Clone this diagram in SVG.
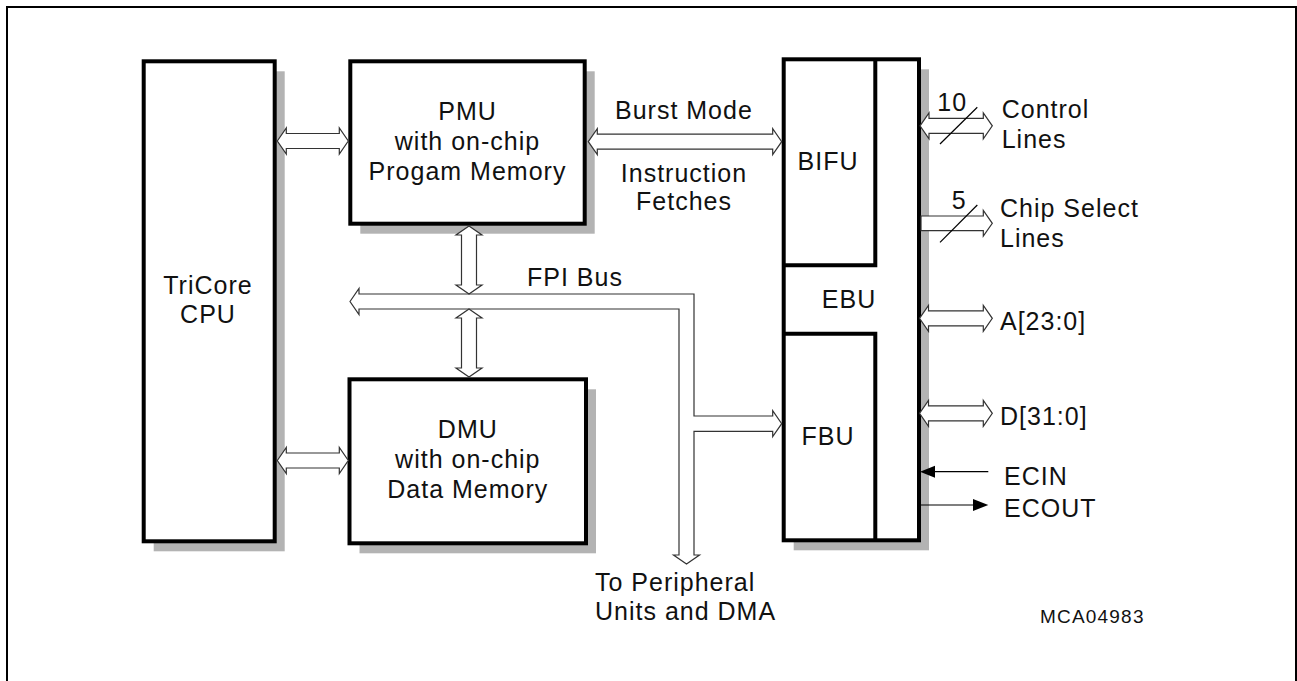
<svg xmlns="http://www.w3.org/2000/svg" width="1297" height="681" viewBox="0 0 1297 681">
<style>
.shadow{fill:#b3b3b3;stroke:none}
.box{fill:#fff;stroke:#000;stroke-width:4}
.div{fill:none;stroke:#000;stroke-width:4}
.arr{fill:#fff;stroke:#333;stroke-width:1.2;stroke-linejoin:miter}
.ln{fill:none;stroke:#000;stroke-width:1.2}
.head{fill:#000;stroke:none}
text{font-family:"Liberation Sans",Arial,sans-serif;font-size:25px;letter-spacing:1px;fill:#111}
.c{text-anchor:middle}
.small{font-size:19px;letter-spacing:1.2px}
</style>
<rect x="7" y="7" width="1289" height="700" fill="none" stroke="#000" stroke-width="2"/>

<g id="cpu">
<rect class="shadow" x="153.7" y="71.3" width="131" height="480"/>
<rect class="box" x="143.7" y="61.3" width="131" height="480"/>
<text class="c" x="208" y="294">TriCore</text>
<text class="c" x="208" y="323">CPU</text>
</g>

<g id="pmu">
<rect class="shadow" x="360.3" y="71.3" width="234.4" height="162.4"/>
<rect class="box" x="350.3" y="61.3" width="234.4" height="162.4"/>
<text class="c" x="467.5" y="119.5">PMU</text>
<text class="c" x="467.5" y="149.5">with on-chip</text>
<text class="c" x="467.5" y="179.5">Progam Memory</text>
</g>

<g id="dmu">
<rect class="shadow" x="359.5" y="389.3" width="236.5" height="164"/>
<rect class="box" x="349.5" y="379.3" width="236.5" height="164"/>
<text class="c" x="467.8" y="437.5">DMU</text>
<text class="c" x="467.8" y="468">with on-chip</text>
<text class="c" x="467.8" y="498.3">Data Memory</text>
</g>

<g id="ebu">
<rect class="shadow" x="793.7" y="69.3" width="135.3" height="481"/>
<rect class="box" x="783.7" y="59.3" width="135.3" height="481"/>
<path class="div" d="M875.3,59.3 V265.3 H783.7 M783.7,333.7 H875.3 V540.3"/>
<text class="c" x="849" y="308.3">EBU</text>
</g>
<g id="bifu">
<text class="c" x="828" y="170">BIFU</text>
</g>
<g id="fbu">
<text class="c" x="828" y="445">FBU</text>
</g>

<g id="connectors">
<!-- CPU <-> PMU -->
<path class="arr" d="M277.3,141 L286.3,128 L286.3,133.5 L339.3,133.5 L339.3,128 L348.3,141 L339.3,154 L339.3,148.5 L286.3,148.5 L286.3,154 Z"/>
<!-- CPU <-> DMU -->
<path class="arr" d="M277.3,460.5 L286.3,447.5 L286.3,453 L339.3,453 L339.3,447.5 L348.3,460.5 L339.3,473.5 L339.3,468 L286.3,468 L286.3,473.5 Z"/>
<!-- PMU <-> BIFU burst -->
<path class="arr" d="M588.3,141.7 L597.3,128.7 L597.3,134.2 L772.7,134.2 L772.7,128.7 L781.7,141.7 L772.7,154.7 L772.7,149.2 L597.3,149.2 L597.3,154.7 Z"/>
<!-- FPI bus -->
<path class="arr" d="M350,301.5 L359,288.5 L359,294 L694,294 L694,416 L772.7,416 L772.7,410.7 L781.7,423.7 L772.7,436.7 L772.7,431.4 L694,431.4 L694,555 L699.5,555 L686.5,564 L673.5,555 L679,555 L679,309 L359,309 L359,314.5 Z"/>
<!-- PMU <-> bus -->
<path class="arr" d="M469,226 L482,235 L476.5,235 L476.5,285 L482,285 L469,294 L456,285 L461.5,285 L461.5,235 L456,235 Z"/>
<!-- bus <-> DMU -->
<path class="arr" d="M469,309 L482,318 L476.5,318 L476.5,368 L482,368 L469,377 L456,368 L461.5,368 L461.5,318 L456,318 Z"/>
<!-- Control lines -->
<path class="arr" d="M920,125.8 L929,112.8 L929,118.3 L983.3,118.3 L983.3,112.8 L992.3,125.8 L983.3,138.8 L983.3,133.3 L929,133.3 L929,138.8 Z"/>
<line class="ln" x1="940" y1="144" x2="977.3" y2="107.3"/>
<!-- Chip select -->
<path class="arr" d="M921,216 L983.3,216 L983.3,210.5 L992.3,223.3 L983.3,236.1 L983.3,230.6 L921,230.6 Z"/>
<line class="ln" x1="940" y1="242.3" x2="977.3" y2="205"/>
<!-- A[23:0] -->
<path class="arr" d="M919.5,318.3 L928.5,305.3 L928.5,310.8 L983.3,310.8 L983.3,305.3 L992.3,318.3 L983.3,331.3 L983.3,325.8 L928.5,325.8 L928.5,331.3 Z"/>
<!-- D[31:0] -->
<path class="arr" d="M919.5,413.3 L928.5,400.3 L928.5,405.8 L983.3,405.8 L983.3,400.3 L992.3,413.3 L983.3,426.3 L983.3,420.8 L928.5,420.8 L928.5,426.3 Z"/>
<!-- ECIN -->
<line class="ln" x1="988.3" y1="471.7" x2="934" y2="471.7"/>
<polygon class="head" points="920,471.7 935,465.7 935,477.7"/>
<!-- ECOUT -->
<line class="ln" x1="920" y1="505" x2="974" y2="505"/>
<polygon class="head" points="988.3,505 973,499 973,511"/>
</g>

<g id="labels">
<text x="615" y="118.5">Burst Mode</text>
<text class="c" x="684" y="181.7">Instruction</text>
<text class="c" x="684" y="210">Fetches</text>
<text x="527" y="286">FPI Bus</text>
<text x="937.3" y="110.7">10</text>
<text x="1001.7" y="118.3">Control</text>
<text x="1001.7" y="148.3">Lines</text>
<text x="951.7" y="209.3">5</text>
<text x="1000" y="216.7">Chip Select</text>
<text x="1000" y="246.7">Lines</text>
<text x="1000" y="330">A[23:0]</text>
<text x="1000" y="425">D[31:0]</text>
<text x="1004" y="485">ECIN</text>
<text x="1004" y="517.3">ECOUT</text>
<text x="595" y="590.7">To Peripheral</text>
<text x="595" y="620">Units and DMA</text>
<text class="small" x="1040" y="623.3">MCA04983</text>
</g>
</svg>
